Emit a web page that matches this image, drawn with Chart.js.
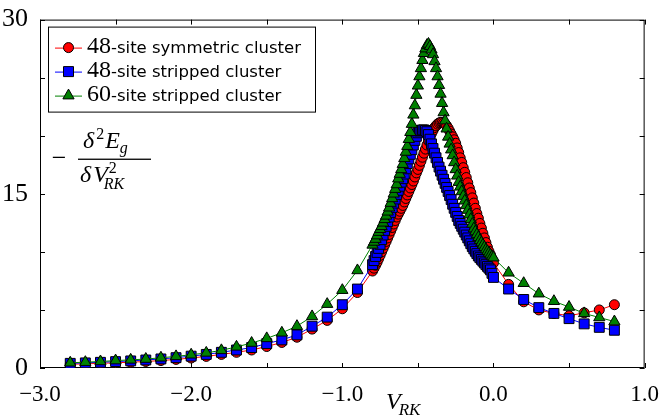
<!DOCTYPE html>
<html>
<head>
<meta charset="utf-8">
<script src="https://cdn.jsdelivr.net/npm/chart.js@4.4.1/dist/chart.umd.min.js"></script>
<style>
  html, body { margin: 0; padding: 0; background: #fff; }
  #wrap { width: 664px; height: 420px; }
</style>
</head>
<body>
<div id="wrap"><canvas id="gapChart"></canvas></div>
<script>
// coupling V_RK (x axis)
const vrk = [
  -2.8, -2.7, -2.6, -2.5, -2.4, -2.3, -2.2, -2.1, -2.0, -1.9,
  -1.8, -1.7, -1.6, -1.5, -1.4, -1.3, -1.2, -1.1, -1.0, -0.9,
  -0.80, -0.79, -0.78, -0.77, -0.76, -0.75, -0.74, -0.73, -0.72, -0.71,
  -0.70, -0.69, -0.68, -0.67, -0.66, -0.65, -0.64, -0.63, -0.62, -0.61,
  -0.60, -0.59, -0.58, -0.57, -0.56, -0.55, -0.54, -0.53, -0.52, -0.51,
  -0.50, -0.49, -0.48, -0.47, -0.46, -0.45, -0.44, -0.43, -0.42, -0.41,
  -0.40, -0.39, -0.38, -0.37, -0.36, -0.35, -0.34, -0.33, -0.32, -0.31,
  -0.30, -0.29, -0.28, -0.27, -0.26, -0.25, -0.24, -0.23, -0.22, -0.21,
  -0.20, -0.19, -0.18, -0.17, -0.16, -0.15, -0.14, -0.13, -0.12, -0.11,
  -0.10, -0.09, -0.08, -0.07, -0.06, -0.05, -0.04, -0.03, -0.02, -0.01,
  0.00,
  0.1, 0.2, 0.3, 0.4, 0.5, 0.6, 0.7, 0.8
];

// -d2Eg/dV2 for each cluster
const symmetric48 = [
  0.32, 0.36, 0.40, 0.45, 0.50, 0.56, 0.64, 0.74, 0.86, 1.00,
  1.17, 1.35, 1.55, 1.85, 2.20, 2.65, 3.35, 4.10, 5.10, 6.50,
  8.35, 8.60, 8.85, 9.10, 9.40, 9.70, 10.0, 10.3, 10.6, 10.9,
  11.2, 11.5, 11.8, 12.1, 12.4, 12.7, 13.0, 13.25, 13.5, 13.75,
  14.0, 14.3, 14.6, 14.9, 15.2, 15.5, 15.8, 16.1, 16.45, 16.8,
  17.1, 17.45, 17.8, 18.15, 18.5, 18.85, 19.2, 19.55, 19.9, 20.2,
  20.45, 20.7, 20.85, 21.0, 21.1, 21.15, 21.15, 21.1, 21.0, 20.85,
  20.65, 20.4, 20.15, 19.9, 19.65, 19.35, 18.95, 18.55, 18.1, 17.7,
  17.25, 16.85, 16.4, 15.95, 15.5, 15.1, 14.65, 14.2, 13.75, 13.3,
  12.9, 12.45, 12.05, 11.6, 11.2, 10.8, 10.4, 10.05, 9.75, 9.4,
  9.05,
  7.2, 5.7, 5.0, 4.7, 4.5, 4.75, 5.0, 5.45
];

const stripped48 = [
  0.40, 0.44, 0.49, 0.55, 0.61, 0.69, 0.78, 0.89, 1.02, 1.17,
  1.35, 1.55, 1.76, 2.10, 2.42, 2.85, 3.60, 4.38, 5.45, 6.80,
  8.9, 9.25, 9.6, 9.95, 10.3, 10.65, 11.05, 11.45, 11.85, 12.2,
  12.6, 13.0, 13.4, 13.8, 14.2, 14.55, 14.95, 15.3, 15.65, 16.0,
  16.3, 16.7, 17.15, 17.6, 18.0, 18.4, 18.8, 19.2, 19.6, 19.95,
  20.25, 20.4, 20.45, 20.5, 20.5, 20.45, 20.35, 20.1, 19.7, 19.3,
  18.9, 18.5, 18.1, 17.7, 17.3, 16.95, 16.6, 16.25, 15.9, 15.55,
  15.2, 14.85, 14.5, 14.1, 13.75, 13.4, 13.05, 12.7, 12.45, 12.2,
  11.95, 11.7, 11.45, 11.2, 10.95, 10.7, 10.45, 10.25, 10.05, 9.85,
  9.65, 9.5, 9.35, 9.2, 9.05, 8.9, 8.75, 8.6, 8.45, 8.15,
  7.8,
  6.8, 5.9, 5.2, 4.7, 4.25, 3.8, 3.5, 3.25
];

const stripped60 = [
  0.45, 0.50, 0.56, 0.64, 0.70, 0.77, 0.88, 1.00, 1.14, 1.30,
  1.52, 1.82, 2.15, 2.55, 3.03, 3.60, 4.44, 5.50, 6.70, 8.40,
  10.6, 10.85, 11.1, 11.4, 11.7, 11.95, 12.2, 12.5, 12.8, 13.1,
  13.45, 13.8, 14.2, 14.6, 15.0, 15.4, 15.8, 16.3, 16.7, 17.1,
  17.55, 18.05, 18.6, 19.1, 19.7, 20.3, 21.0, 21.8, 22.6, 23.5,
  24.3, 25.1, 25.8, 26.5, 27.1, 27.5, 27.8, 27.9, 27.7, 27.4,
  27.0, 26.4, 25.8, 25.1, 24.35, 23.6, 22.8, 22.0, 21.3, 20.6,
  19.9, 19.3, 18.8, 18.3, 17.7, 17.1, 16.55, 16.0, 15.6, 15.2,
  14.8, 14.4, 14.0, 13.6, 13.2, 12.8, 12.4, 12.0, 11.75, 11.5,
  11.25, 11.0, 10.8, 10.6, 10.4, 10.2, 10.05, 9.9, 9.75, 9.6,
  9.5,
  8.2, 7.3, 6.4, 5.75, 5.25, 4.7, 4.35, 4.0
];

const seriesLabels = ['48-site symmetric cluster', '48-site stripped cluster', '60-site stripped cluster'];

const SERIF = '"Liberation Serif", "DejaVu Serif", serif';
const SANS = '"DejaVu Sans", sans-serif';

function toPoints(values) {
  return vrk.map((x, i) => ({ x: x, y: values[i] }));
}

function makeSeries(label, values, color, style, radius, order) {
  return {
    label: label,
    data: toPoints(values),
    borderColor: color,
    borderWidth: 1,
    backgroundColor: color,
    pointStyle: style,
    pointRadius: radius,
    pointBackgroundColor: color,
    pointBorderColor: '#000',
    pointBorderWidth: 1,
    tension: 0,
    order: order
  };
}

// little marker shapes for the legend box
function drawMarker(ctx, style, x, y, color) {
  ctx.fillStyle = color;
  ctx.strokeStyle = '#000';
  ctx.lineWidth = 1;
  ctx.beginPath();
  if (style === 'circle') {
    ctx.arc(x, y, 5, 0, Math.PI * 2);
  } else if (style === 'rect') {
    ctx.rect(x - 5, y - 5, 10, 10);
  } else {
    ctx.moveTo(x, y - 6.5);
    ctx.lineTo(x + 5.6, y + 3.3);
    ctx.lineTo(x - 5.6, y + 3.3);
    ctx.closePath();
  }
  ctx.fill();
  ctx.stroke();
}

function text(ctx, str, x, y, size, italic, family) {
  ctx.font = (italic ? 'italic ' : '') + size + 'px ' + (family || SERIF);
  ctx.fillText(str, x, y);
  return ctx.measureText(str).width;
}

// box frame plus inward ticks on all four sides
const frameTicks = {
  id: 'frameTicks',
  beforeDatasetsDraw(chart) {
    const ctx = chart.ctx;
    const a = chart.chartArea;
    const xs = chart.scales.x;
    const ys = chart.scales.y;
    ctx.save();
    ctx.strokeStyle = '#000';
    ctx.lineWidth = 1;
    ctx.beginPath();
    xs.ticks.forEach(t => {
      const px = Math.round(xs.getPixelForValue(t.value)) + 0.5;
      ctx.moveTo(px, a.bottom);
      ctx.lineTo(px, a.bottom - 5);
      ctx.moveTo(px, a.top);
      ctx.lineTo(px, a.top + 5);
    });
    ys.ticks.forEach(t => {
      const py = Math.round(ys.getPixelForValue(t.value)) + 0.5;
      ctx.moveTo(a.left, py);
      ctx.lineTo(a.left + 5, py);
      ctx.moveTo(a.right, py);
      ctx.lineTo(a.right - 5, py);
    });
    ctx.stroke();
    ctx.strokeRect(a.left + 0.5, a.top + 0.5, a.width - 1, a.height - 1);
    ctx.restore();
  }
};

// legend box and the math labels
const annotations = {
  id: 'annotations',
  afterDraw(chart) {
    const ctx = chart.ctx;
    const a = chart.chartArea;
    ctx.save();
    ctx.textBaseline = 'alphabetic';
    ctx.textAlign = 'left';

    // legend
    const bx = a.left + 8, by = a.top + 7;
    ctx.fillStyle = '#fff';
    ctx.fillRect(bx, by, 267, 85);
    ctx.strokeStyle = '#000';
    ctx.lineWidth = 1;
    ctx.strokeRect(bx + 0.5, by + 0.5, 267, 85);
    chart.data.datasets.forEach((ds, i) => {
      const cy = by + 21 + i * 24;
      ctx.strokeStyle = ds.borderColor;
      ctx.lineWidth = 1;
      ctx.beginPath();
      ctx.moveTo(bx + 7, cy + 0.5);
      ctx.lineTo(bx + 34, cy + 0.5);
      ctx.stroke();
      drawMarker(ctx, ds.pointStyle, bx + 20.5, cy, ds.pointBackgroundColor);
      const m = ds.label.match(/^(\d+)(.*)$/);
      ctx.fillStyle = '#000';
      const w = text(ctx, m[1], bx + 39, cy + 5, 24, false);
      text(ctx, m[2], bx + 39 + w, cy + 5, 16.5, false, SANS);
    });

    // y label: -d2Eg / dV2_RK
    ctx.fillStyle = '#000';
    const lx = a.left;
    const ly = a.top;
    ctx.textAlign = 'center';
    text(ctx, '\u2212', lx + 19, ly + 146, 26, false);
    ctx.textAlign = 'left';
    let x0 = lx + 43;
    let w = text(ctx, '\u03b4', x0, ly + 128, 24, true);
    text(ctx, '2', x0 + w + 2, ly + 119, 16, false);
    w += 11;
    const we = text(ctx, 'E', x0 + w, ly + 128, 24, true);
    text(ctx, 'g', x0 + w + we, ly + 133, 16, true);
    ctx.fillRect(lx + 38, ly + 139, 73, 1.3);
    x0 = lx + 40;
    w = text(ctx, '\u03b4', x0, ly + 162, 24, true);
    const wv = text(ctx, 'V', x0 + w + 2, ly + 162, 24, true);
    const vEnd = x0 + w + 2 + wv;
    text(ctx, '2', vEnd + 1, ly + 153, 16, false);
    text(ctx, 'RK', vEnd - 4, ly + 169, 16, true);

    // x label: V_RK
    const xv = text(ctx, 'V', 386, 409, 24, true);
    text(ctx, 'RK', 386 + xv - 2, 415, 17, true);
    ctx.restore();
  }
};

function fmtX(v) {
  if (Math.abs(v - Math.round(v)) > 1e-6) return '';
  return (v < 0 ? '\u2212' : '') + Math.abs(v).toFixed(1);
}

new Chart(document.getElementById('gapChart').getContext('2d'), {
  type: 'line',
  data: {
    datasets: [
      makeSeries(seriesLabels[0], symmetric48, '#ff0000', 'circle', 5, 3),
      makeSeries(seriesLabels[1], stripped48, '#0000ff', 'rect', 7, 2),
      makeSeries(seriesLabels[2], stripped60, '#008000', 'triangle', 6.5, 1)
    ]
  },
  options: {
    responsive: true,
    maintainAspectRatio: false,
    animation: false,
    events: [],
    layout: { padding: { top: 15, right: 18, left: 0, bottom: 0 } },
    plugins: {
      legend: { display: false },
      tooltip: { enabled: false }
    },
    scales: {
      x: {
        type: 'linear',
        min: -3,
        max: 1,
        grid: { display: false },
        border: { display: false },
        ticks: {
          stepSize: 0.5,
          autoSkip: false,
          maxRotation: 0,
          padding: 5,
          color: '#000',
          font: { family: SERIF, size: 23 },
          callback: fmtX
        },
        afterFit: s => { s.height = 52; }
      },
      y: {
        type: 'linear',
        min: 0,
        max: 30,
        grid: { display: false },
        border: { display: false },
        ticks: {
          stepSize: 5,
          autoSkip: false,
          padding: 4,
          color: '#000',
          font: { family: SERIF, size: 26 },
          callback: v => (v % 15 === 0 ? String(v) : '')
        },
        afterFit: s => { s.width = 40; }
      }
    }
  },
  plugins: [frameTicks, annotations]
});
</script>
</body>
</html>
